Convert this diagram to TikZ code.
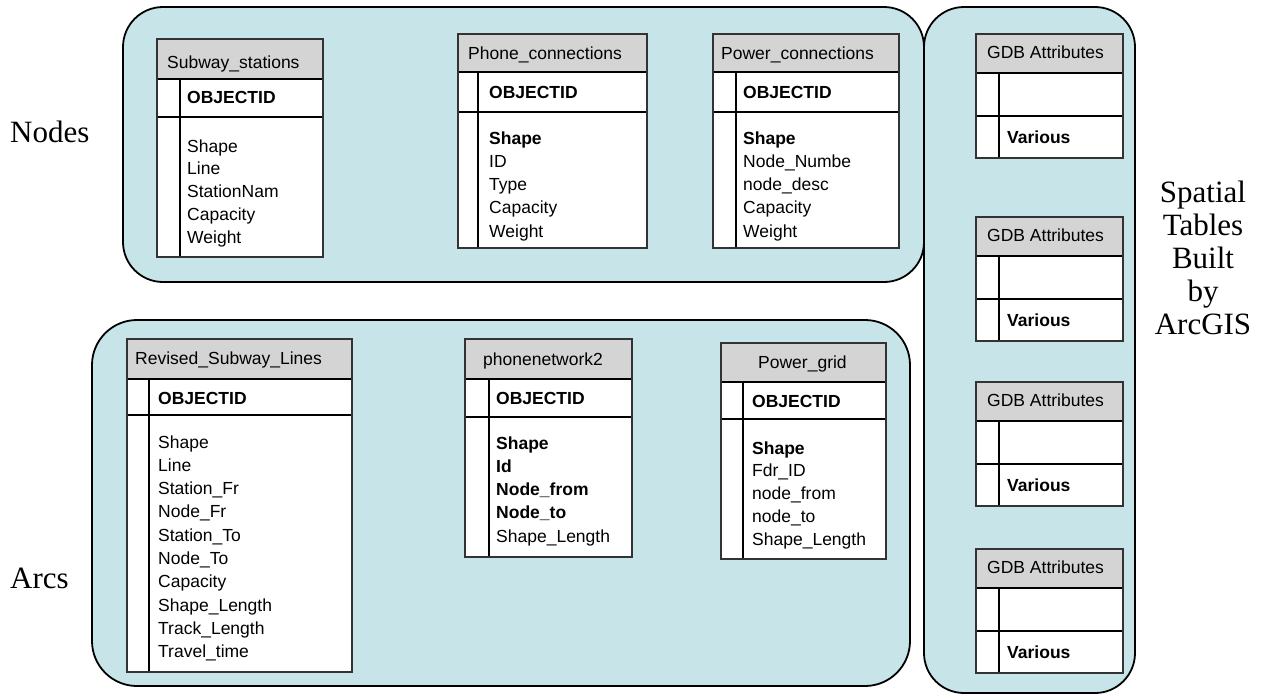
\documentclass[tikz,border=0pt]{standalone}
\usepackage{fontspec}
\setmainfont{Liberation Serif}
\newfontfamily\arialf{Liberation Sans}
\definecolor{grpfill}{RGB}{199,229,232}
\definecolor{hdrgray}{RGB}{212,212,212}
\newcommand\tabfont{\arialf\fontsize{17.5}{22}\selectfont}
\newcommand\lblfont{\rmfamily\fontsize{31}{33}\selectfont}
\tikzset{
  grp/.style={draw=black, line width=1.8pt, fill=grpfill, rounded corners=40pt},
  tframe/.style={draw=black!80, line width=1.2pt},
  tline/.style={draw=black, line width=1.1pt},
  ttext/.style={anchor=base west, inner sep=0pt, font=\tabfont},
  btext/.style={anchor=base west, inner sep=0pt, font=\tabfont\bfseries},
  lbl/.style={inner sep=0pt, font=\lblfont}
}
% #1 left, #2 top, #3 right, #4 header bottom, #5 key-row bottom, #6 bottom, #7 inner line
\newcommand\dbtab[7]{%
  \fill[white] (#1,#2) rectangle (#3,#6);
  \fill[hdrgray] (#1,#2) rectangle (#3,#4);
  \draw[tline] (#1,#4) -- (#3,#4) (#1,#5) -- (#3,#5) (#7,#4) -- (#7,#6);
  \draw[tframe] (#1,#2) rectangle (#3,#6);
}
% #1 prefix, #2 x, #3 first baseline, #4 step, #5 list
\newcommand\fieldlist[5]{%
  \foreach \t [count=\i] in {#5} {
    \node[ttext, name=#1\i] at (#2,{#3+(\i-1)*#4}) {\t};
  }
}
\begin{document}
\begin{tikzpicture}[x=1pt, y=-1pt]
\useasboundingbox (0,0) rectangle (1262,694);

% group boxes
\draw[grp] (123,7) rectangle (924,282);
\draw[grp, rounded corners=45pt] (92,320) rectangle (910,686);
\draw[grp] (924,7) rectangle (1135,693);

% side labels
\node[lbl, anchor=base west] (nodeslbl) at (10,142) {Nodes};
\node[lbl, anchor=base west] (arcslbl) at (10,588) {Arcs};
\node[lbl, anchor=base] (sp1) at (1203,202) {Spatial};
\node[lbl, anchor=base] (sp2) at (1203,235) {Tables};
\node[lbl, anchor=base] (sp3) at (1203,268) {Built};
\node[lbl, anchor=base] (sp4) at (1203,301) {by};
\node[lbl, anchor=base] (sp5) at (1203,334) {ArcGIS};

% Subway_stations
\dbtab{157}{39}{323}{79}{117}{257}{180}
\node[ttext] (ssh) at (167,68) {Subway\_stations};
\node[btext] (ssk) at (187,103) {OBJECTID};
\fieldlist{ssf}{187}{152}{22.75}{Shape,Line,StationNam,Capacity,Weight}

% Phone_connections
\dbtab{458}{34}{647}{72}{112}{248}{478}
\node[ttext] (pch) at (468,59) {Phone\_connections};
\node[btext] (pck) at (489,98) {OBJECTID};
\fieldlist{pcf}{489}{144}{23.25}{\textbf{Shape},ID,Type,Capacity,Weight}

% Power_connections
\dbtab{713}{34}{899}{72}{112}{248}{736}
\node[ttext] (pwh) at (721,59) {Power\_connections};
\node[btext] (pwk) at (743,98) {OBJECTID};
\fieldlist{pwf}{743}{144}{23.25}{\textbf{Shape},Node\_Numbe,node\_desc,Capacity,Weight}

% Revised_Subway_Lines
\dbtab{127}{339}{352}{379}{415}{672}{149}
\node[ttext] (rsh) at (135,364) {Revised\_Subway\_Lines};
\node[btext] (rsk) at (158,404) {OBJECTID};
\fieldlist{rsf}{158}{448}{23.3}{Shape,Line,Station\_Fr,Node\_Fr,Station\_To,Node\_To,Capacity,Shape\_Length,Track\_Length,Travel\_time}

% phonenetwork2
\dbtab{465}{339}{632}{379}{417}{557}{489}
\node[ttext] (pnh) at (483,365) {phonenetwork2};
\node[btext] (pnk) at (496,404) {OBJECTID};
\fieldlist{pnf}{496}{449}{23.3}{\textbf{Shape},\textbf{Id},\textbf{Node\_from},\textbf{Node\_to},Shape\_Length}

% Power_grid
\dbtab{721}{343}{886}{382}{419}{559}{743}
\node[ttext] (pgh) at (758,368) {Power\_grid};
\node[btext] (pgk) at (752,407) {OBJECTID};
\fieldlist{pgf}{752}{454}{22.8}{\textbf{Shape},Fdr\_ID,node\_from,node\_to,Shape\_Length}

% GDB Attributes tables
\foreach \top [count=\k] in {34,217,382,549} {
  \dbtab{976}{\top}{1123}{\top+39}{\top+82}{\top+124}{999}
  \node[ttext] (gdbh\k) at (987,\top+24.5) {GDB Attributes};
  \node[btext] (gdbv\k) at (1007,\top+109) {Various};
}
\end{tikzpicture}
\end{document}
